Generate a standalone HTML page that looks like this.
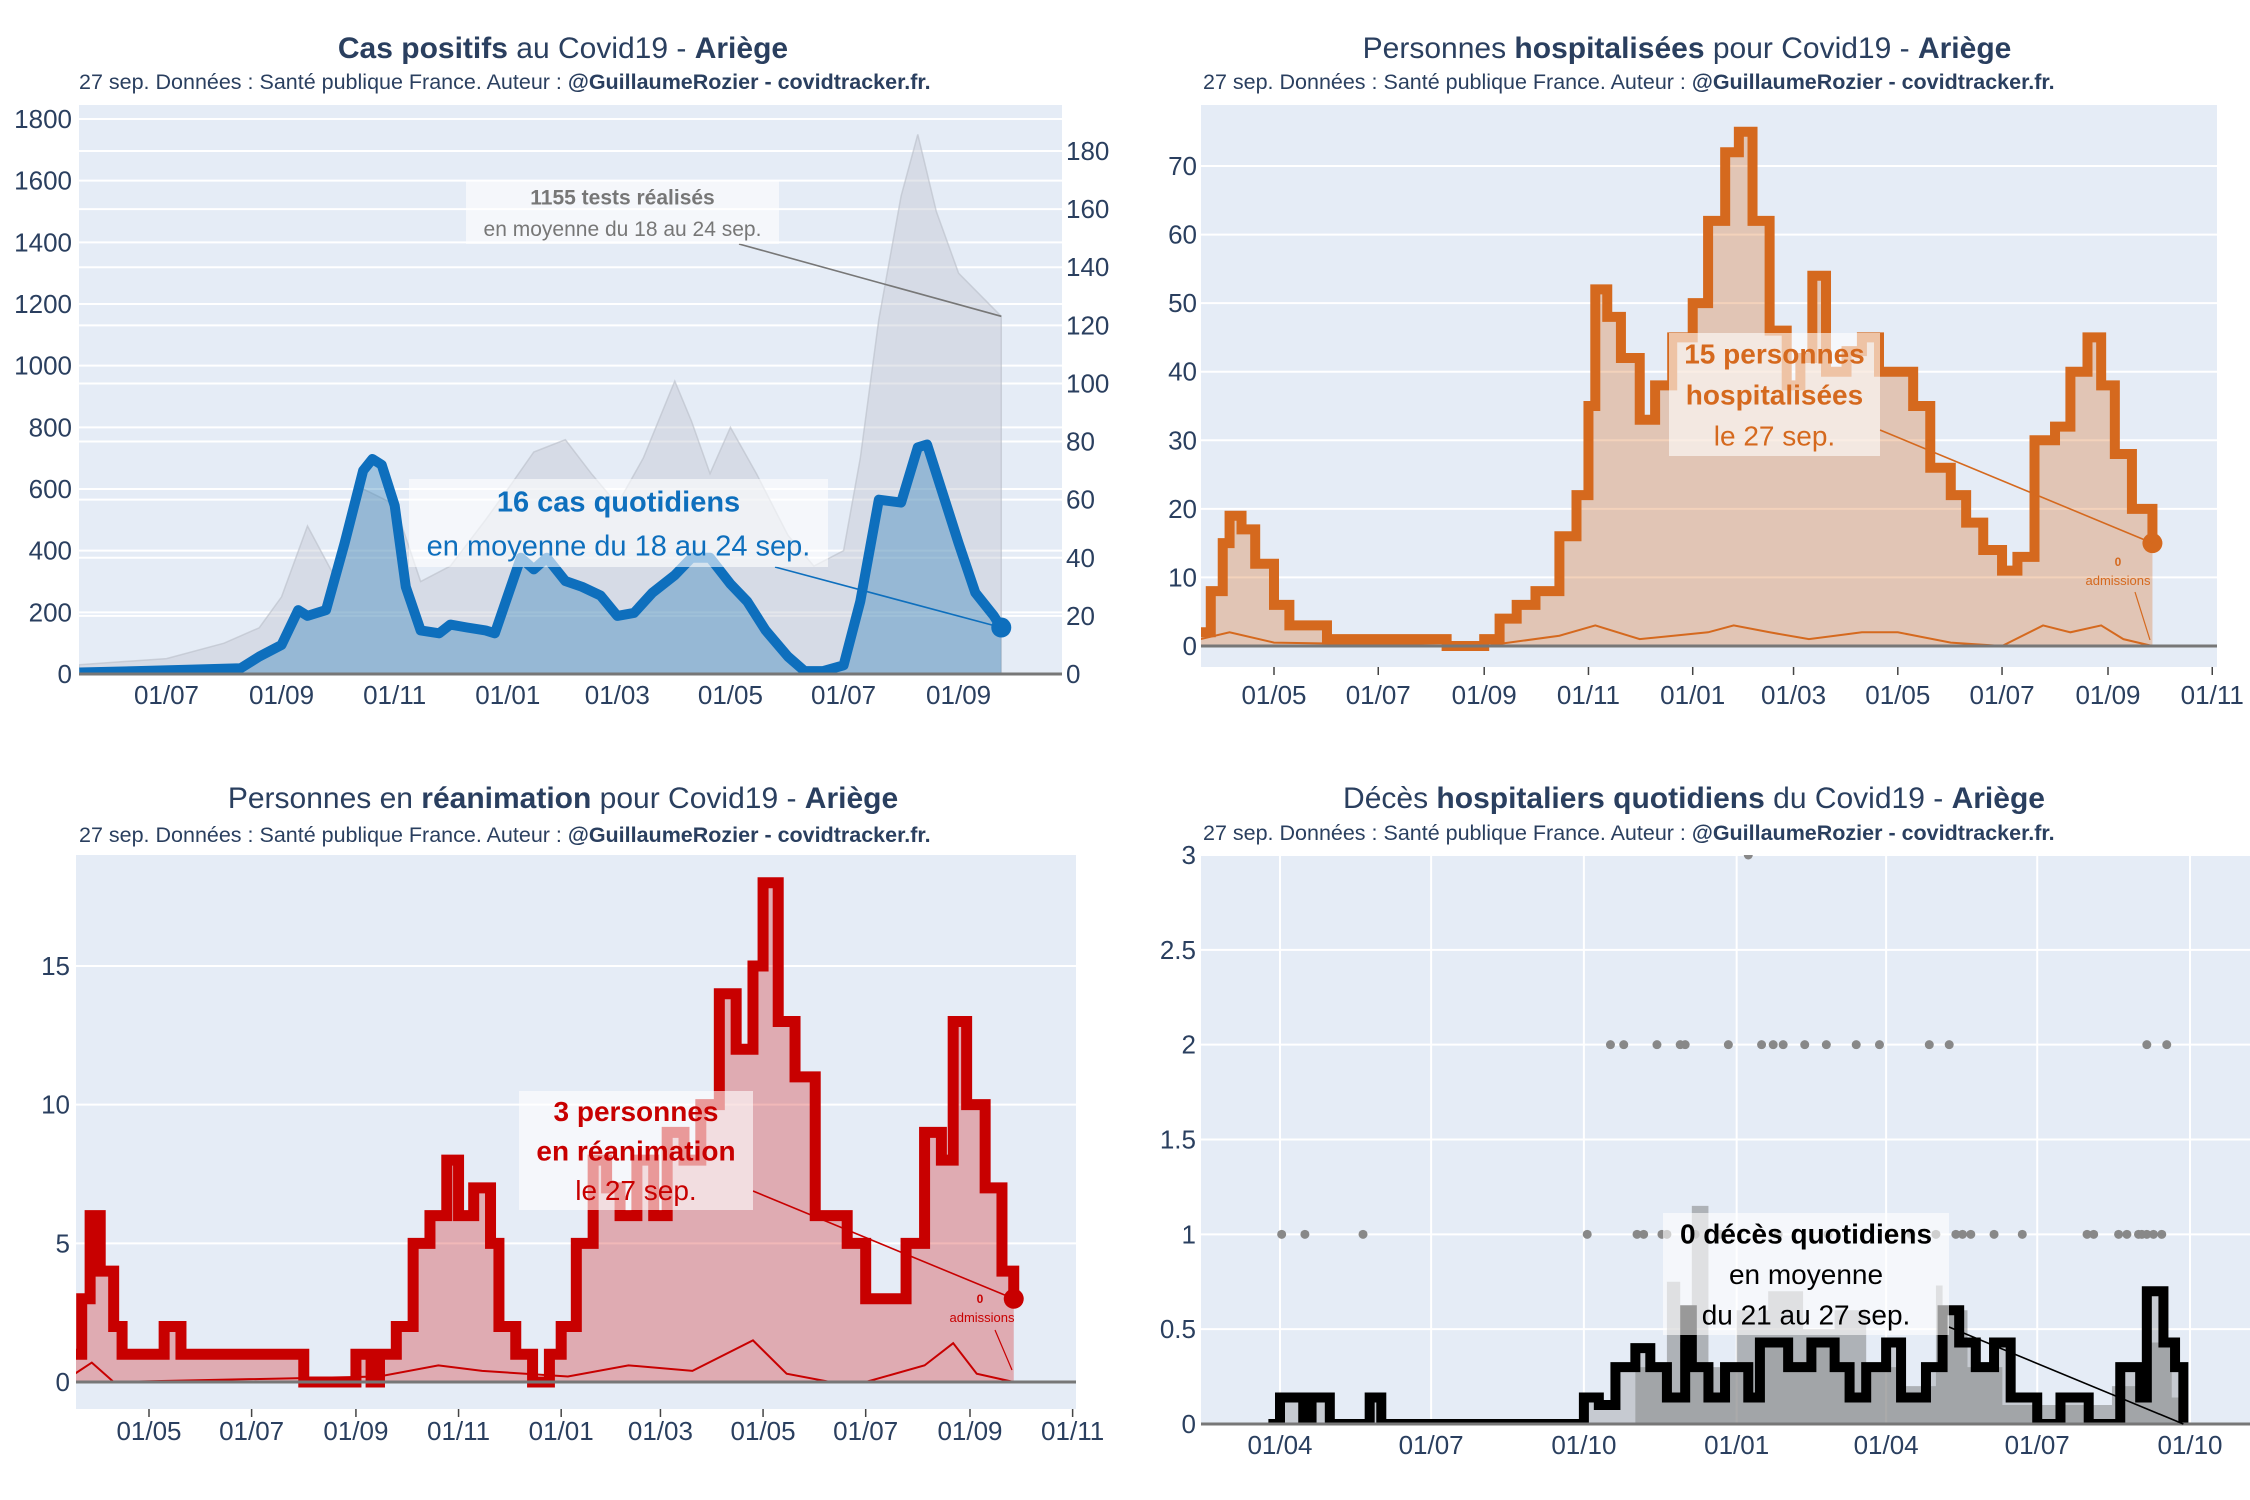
<!DOCTYPE html>
<html><head><meta charset="utf-8"><style>
html,body{margin:0;padding:0;background:#fff;}
svg{display:block;font-family:"Liberation Sans",sans-serif;}
</style></head><body>
<svg id="root" width="2250" height="1500" viewBox="0 0 2250 1500" xmlns="http://www.w3.org/2000/svg"></svg>
<script>
// ---------- Chart 1 data: cas positifs ----------
const casDates=['2020-05-15','2020-06-15','2020-07-15','2020-08-10','2020-08-20','2020-09-01','2020-09-10','2020-09-15','2020-09-25','2020-10-05','2020-10-15','2020-10-20','2020-10-25','2020-11-01','2020-11-07','2020-11-15','2020-11-25','2020-12-01','2020-12-10','2020-12-20','2020-12-25','2021-01-01','2021-01-08','2021-01-15','2021-01-22','2021-02-01','2021-02-10','2021-02-20','2021-03-01','2021-03-10','2021-03-20','2021-04-01','2021-04-10','2021-04-20','2021-05-01','2021-05-10','2021-05-20','2021-06-01','2021-06-10','2021-06-20','2021-07-01','2021-07-10','2021-07-20','2021-08-01','2021-08-10','2021-08-15','2021-09-01','2021-09-10','2021-09-20','2021-09-24'];
const casValues=[0.5,1,1.5,2,6,10,22,20,22,45,70,74,72,58,30,15,14,17,16,15,14,27,40,36,40,32,30,27,20,21,28,34,40,40,31,25,15,6,1,1,3,25,60,59,78,79,45,28,20,16];
const testDates=['2020-05-15','2020-07-01','2020-08-01','2020-08-20','2020-09-01','2020-09-15','2020-10-01','2020-10-15','2020-11-01','2020-11-15','2020-12-01','2020-12-20','2021-01-01','2021-01-15','2021-02-01','2021-02-15','2021-03-01','2021-03-15','2021-04-01','2021-04-10','2021-04-20','2021-05-01','2021-05-15','2021-06-01','2021-06-15','2021-07-01','2021-07-10','2021-07-20','2021-08-01','2021-08-10','2021-08-20','2021-09-01','2021-09-24'];
const testValues=[30,50,100,150,250,480,300,600,550,300,350,500,600,720,760,650,550,700,950,820,650,800,650,450,350,400,700,1150,1550,1750,1500,1300,1160];
const casLeftTicks=[0,200,400,600,800,1000,1200,1400,1600,1800];
const casRightTicks=[0,20,40,60,80,100,120,140,160,180];
const casXTicks=['2020-07-01','2020-09-01','2020-11-01','2021-01-01','2021-03-01','2021-05-01','2021-07-01','2021-09-01'];
// ---------- Chart 2 data: hospitalisations ----------
const hospDates=['2020-03-19','2020-03-25','2020-04-01','2020-04-05','2020-04-12','2020-04-20','2020-05-01','2020-05-10','2020-05-20','2020-06-01','2020-07-01','2020-08-01','2020-08-10','2020-09-01','2020-09-10','2020-09-20','2020-10-01','2020-10-15','2020-10-25','2020-11-01','2020-11-05','2020-11-12','2020-11-20','2020-12-01','2020-12-10','2020-12-20','2021-01-01','2021-01-10','2021-01-20','2021-01-28','2021-02-05','2021-02-15','2021-02-25','2021-03-05','2021-03-12','2021-03-20','2021-04-01','2021-04-10','2021-04-20','2021-05-01','2021-05-10','2021-05-20','2021-06-01','2021-06-10','2021-06-20','2021-07-01','2021-07-10','2021-07-20','2021-08-01','2021-08-10','2021-08-20','2021-08-28','2021-09-05','2021-09-15','2021-09-27'];
const hospValues=[2,8,15,19,17,12,6,3,3,1,1,1,0,1,4,6,8,16,22,35,52,48,42,33,38,45,50,62,72,75,62,46,38,42,54,40,43,45,40,40,35,26,22,18,14,11,13,30,32,40,45,38,28,20,15];
const hospAdmDates=['2020-03-19','2020-04-05','2020-05-01','2020-09-01','2020-10-15','2020-11-05','2020-12-01','2021-01-10','2021-01-25','2021-02-15','2021-03-10','2021-04-10','2021-05-01','2021-06-01','2021-07-01','2021-07-25','2021-08-10','2021-08-28','2021-09-10','2021-09-27'];
const hospAdmValues=[1,2,0.5,0,1.5,3,1,2,3,2,1,2,2,0.5,0,3,2,3,1,0];
const hospYTicks=[0,10,20,30,40,50,60,70];
const bimonthTicks=['2020-05-01','2020-07-01','2020-09-01','2020-11-01','2021-01-01','2021-03-01','2021-05-01','2021-07-01','2021-09-01','2021-11-01'];
// ---------- Chart 3 data: réanimation ----------
const reaDates=['2020-03-18','2020-03-22','2020-03-27','2020-04-02','2020-04-10','2020-04-15','2020-05-01','2020-05-10','2020-05-20','2020-07-01','2020-08-01','2020-08-15','2020-09-01','2020-09-10','2020-09-15','2020-09-25','2020-10-05','2020-10-15','2020-10-25','2020-11-01','2020-11-10','2020-11-20','2020-11-25','2020-12-05','2020-12-15','2020-12-25','2021-01-01','2021-01-10','2021-01-20','2021-01-28','2021-02-05','2021-02-15','2021-02-25','2021-03-05','2021-03-15','2021-03-25','2021-04-05','2021-04-15','2021-04-25','2021-05-01','2021-05-10','2021-05-20','2021-06-01','2021-06-10','2021-06-20','2021-07-01','2021-07-15','2021-07-25','2021-08-05','2021-08-15','2021-08-22','2021-08-30','2021-09-10','2021-09-20','2021-09-27'];
const reaValues=[1,3,6,4,2,1,1,2,1,1,0,0,1,0,1,2,5,6,8,6,7,5,2,1,0,1,2,5,8,7,6,8,6,9,8,10,14,12,15,18,13,11,6,6,5,3,3,5,9,8,13,10,7,4,3];
const reaAdmDates=['2020-03-18','2020-03-28','2020-04-10','2020-09-15','2020-10-20','2020-11-15','2021-01-05','2021-02-10','2021-03-20','2021-04-25','2021-05-15','2021-06-10','2021-07-01','2021-08-05','2021-08-22','2021-09-05','2021-09-27'];
const reaAdmValues=[0.3,0.7,0,0.2,0.6,0.4,0.2,0.6,0.4,1.5,0.3,0,0,0.6,1.4,0.3,0];
const reaYTicks=[0,5,10,15];
// ---------- Chart 4 data: décès ----------
const decDates=['2020-03-25','2020-04-01','2020-04-15','2020-04-20','2020-05-01','2020-05-25','2020-06-01','2020-10-01','2020-10-10','2020-10-20','2020-11-01','2020-11-10','2020-11-20','2020-12-01','2020-12-05','2020-12-15','2020-12-25','2021-01-01','2021-01-08','2021-01-15','2021-02-01','2021-02-15','2021-03-01','2021-03-10','2021-03-20','2021-04-01','2021-04-10','2021-04-25','2021-05-05','2021-05-15','2021-05-25','2021-06-05','2021-06-15','2021-07-01','2021-07-15','2021-08-01','2021-08-20','2021-09-01','2021-09-05','2021-09-15','2021-09-22','2021-09-27'];
const decValues=[0,0.14,0,0.14,0,0.14,0,0.14,0.1,0.3,0.4,0.3,0.14,0.6,0.3,0.14,0.3,0.3,0.14,0.43,0.3,0.43,0.3,0.14,0.3,0.43,0.14,0.3,0.6,0.43,0.3,0.43,0.14,0,0.14,0,0.3,0.14,0.7,0.43,0.3,0];
const decAllDates=['2020-10-15','2020-11-01','2020-11-20','2020-11-28','2020-12-05','2020-12-15','2021-01-01','2021-01-20','2021-02-10','2021-03-01','2021-03-20','2021-04-10','2021-05-01','2021-05-05','2021-05-20','2021-06-10','2021-08-15','2021-09-05','2021-09-20','2021-09-27'];
const decAllValues=[0,0.3,0.75,0.43,1.15,0.3,0.6,0.7,0.5,0.6,0.3,0.2,0.73,0.6,0.3,0.1,0.2,0.43,0.14,0];
const decDots2Offsets=[199,207,227,241,244,270,290,297,303,316,329,347,361,391,403,522,534];
const decDots1Offsets=[1,15,50,185,215,219,230,233,250,265,300,330,380,395,407,411,416,430,447,486,490,505,510,517,519,522,526,531];
const decDots3Offsets=[282];
const decYTicks=[0,0.5,1,1.5,2,2.5,3];
const decYLabels=['0','0.5','1','1.5','2','2.5','3'];
const quarterTicks=['2020-04-01','2020-07-01','2020-10-01','2021-01-01','2021-04-01','2021-07-01','2021-10-01'];

// ---------- helpers ----------
const NS='http://www.w3.org/2000/svg';
const root=document.getElementById('root');
function mk(tag,attrs,parent){const e=document.createElementNS(NS,tag);for(const k in attrs)e.setAttribute(k,attrs[k]);(parent||root).appendChild(e);return e;}
function D(s){const p=s.split('-');return Date.UTC(+p[0],+p[1]-1,+p[2])/864e5;}
function lin(d0,p0,d1,p1){return v=>p0+(v-d0)*(p1-p0)/(d1-d0);}
function lab(s){const p=s.split('-');return p[2]+'/'+p[1];}
const TXT='#2a3f5f';
function linePath(dates,vals,xs,ys,step){let d='';dates.forEach((t,i)=>{const x=xs(D(t)),y=ys(vals[i]);if(i===0)d+='M'+x+','+y;else if(step){d+='H'+x+'V'+y;}else d+='L'+x+','+y;});return d;}
function areaPath(dates,vals,xs,ys,step,y0){return linePath(dates,vals,xs,ys,step)+'V'+y0+'H'+xs(D(dates[0]))+'Z';}
function titles(g,cx,ty,x0,sy,parts){
  const t=mk('text',{x:cx,y:ty,'text-anchor':'middle','font-size':30,fill:TXT},g);
  
  
  parts.forEach(p=>{const s=mk('tspan',{'font-weight':p[1]?'bold':'normal'},t);s.textContent=p[0];});
  const st=mk('text',{x:x0,y:sy,'font-size':21.5,fill:TXT},g);
  
  
  const a=mk('tspan',{},st);a.textContent='27 sep. Données : Santé publique France. Auteur : ';
  const b=mk('tspan',{'font-weight':'bold'},st);b.textContent='@GuillaumeRozier - covidtracker.fr.';
}
function plotBg(g,x,y,w,h,id){
  const r=mk('rect',{x:x,y:y,width:w,height:h,fill:'#e5ecf6'},g);
  
  
  const cp=mk('clipPath',{id:id},g);mk('rect',{x:x,y:y,width:w,height:h},cp);
}
function yTicks(g,ticks,labels,ys,x0,x1,lx,anchor,grid){
  ticks.forEach((v,i)=>{
    if(grid){const l=mk('line',{x1:x0,x2:x1,y1:ys(v),y2:ys(v),stroke:'#fff','stroke-width':2},g);
      
      }
    const t=mk('text',{x:lx,y:ys(v)+9,'text-anchor':anchor,'font-size':26,fill:TXT},g);
    
    
    t.textContent=labels?labels[i]:String(v);
  });
}
function xTicks(g,ticks,xs,ty,tickTop,vgrid){
  ticks.forEach(s=>{
    const x=xs(D(s));
    if(vgrid){const l=mk('line',{x1:x,x2:x,y1:vgrid[0],y2:vgrid[1],stroke:'#fff','stroke-width':2},g);
      
      }
    if(tickTop){const tk=mk('line',{x1:x,x2:x,y1:tickTop,y2:tickTop+8,stroke:'#444','stroke-width':1.5},g);
      
      }
    const t=mk('text',{x:x,y:ty,'text-anchor':'middle','font-size':26,fill:TXT},g);
    
    
    t.textContent=lab(s);
  });
}
function annot(g,x,y,w,h,lines,color,x1,y1,x2,y2){
  const ln=mk('line',{x1:x1,y1:y1,x2:x2,y2:y2,stroke:color,'stroke-width':1.6},g);
  
  
  const r=mk('rect',{x:x,y:y,width:w,height:h,fill:'rgba(255,255,255,0.6)'},g);
  
  
  const lh=h/lines.length;
  lines.forEach((L,i)=>{
    const t=mk('text',{x:x+w/2,y:y+lh*(i+0.5)+L[2]*0.36,'text-anchor':'middle','font-size':L[2],'font-weight':L[1]?'bold':'normal',fill:color},g);
    
    
    t.textContent=L[0];
  });
}

// ---------- Chart 1 ----------
(function(){
  const g=mk('g',{});
  
  
  titles(g,563,58,79,89,[['Cas positifs',1],[' au Covid19 - ',0],['Ariège',1]]);
  plotBg(g,79,105,983,569,'c1');
  const xs=lin(D('2020-07-01'),166.5,D('2021-09-01'),958.6);
  const yL=lin(0,674,1800,119), yR=lin(0,674,180,151);
  yTicks(g,casLeftTicks,null,yL,79,1062,72,'end',true);
  yTicks(g,casRightTicks,null,yR,79,1062,1066,'start',true);
  const pg=mk('g',{'clip-path':'url(#c1)'},g);
  const ta=mk('path',{d:areaPath(testDates,testValues,xs,yL,false,674),fill:'rgba(195,200,210,0.45)',stroke:'rgba(185,190,200,0.6)','stroke-width':1.5},pg);
  
  
  const ca=mk('path',{d:areaPath(casDates,casValues,xs,yR,false,674),fill:'rgba(31,119,180,0.35)'},pg);
  
  
  const cl=mk('path',{d:linePath(casDates,casValues,xs,yR,false),fill:'none',stroke:'#0e6fbd','stroke-width':10,'stroke-linejoin':'round'},pg);
  
  
  const ax=mk('line',{x1:79,x2:1062,y1:674,y2:674,stroke:'#777','stroke-width':3},g);
  
  
  const last=casDates.length-1;
  const dot=mk('circle',{cx:xs(D(casDates[last])),cy:yR(casValues[last]),r:10,fill:'#0e6fbd'},g);
  
  
  xTicks(g,casXTicks,xs,704,null,null);
  const lt=testDates.length-1;
  annot(g,466,181,313,63,[['1155 tests réalisés',1,21],['en moyenne du 18 au 24 sep.',0,21]],'#777',739,244,xs(D(testDates[lt])),yL(testValues[lt]));
  annot(g,409,479,419,88,[['16 cas quotidiens',1,29],['en moyenne du 18 au 24 sep.',0,29]],'#0e6fbd',775,567,xs(D(casDates[last])),yR(casValues[last]));
})();

// ---------- Chart 2 ----------
(function(){
  const g=mk('g',{});
  
  
  titles(g,1687,58,1203,89,[['Personnes ',0],['hospitalisées',1],[' pour Covid19 - ',0],['Ariège',1]]);
  plotBg(g,1201,105,1016,562,'c2');
  const xs=lin(D('2020-05-01'),1274,D('2021-09-01'),2108);
  const ys=lin(0,646,70,166);
  yTicks(g,hospYTicks,null,ys,1201,2217,1197,'end',true);
  const pg=mk('g',{'clip-path':'url(#c2)'},g);
  const a=mk('path',{d:areaPath(hospDates,hospValues,xs,ys,true,646),fill:'rgba(214,105,30,0.3)'},pg);
  
  
  const ad=mk('path',{d:linePath(hospAdmDates,hospAdmValues,xs,ys,false),fill:'none',stroke:'#d5691e','stroke-width':2},pg);
  
  
  const l=mk('path',{d:linePath(hospDates,hospValues,xs,ys,true),fill:'none',stroke:'#d5691e','stroke-width':10},pg);
  
  
  const ax=mk('line',{x1:1201,x2:2217,y1:646,y2:646,stroke:'#777','stroke-width':3},g);
  
  
  const last=hospDates.length-1;
  const dot=mk('circle',{cx:xs(D(hospDates[last])),cy:ys(hospValues[last]),r:10,fill:'#d5691e'},g);
  
  
  xTicks(g,bimonthTicks,xs,704,667,null);
  annot(g,1669,333,211,123,[['15 personnes',1,28],['hospitalisées',1,28],['le 27 sep.',0,28]],'#d5691e',1880,430,xs(D(hospDates[last])),ys(hospValues[last]));
  const s=mk('text',{x:2118,y:566,'text-anchor':'middle','font-size':12,'font-weight':'bold',fill:'#d5691e'},g);
  
  
  s.textContent='0';
  const s2=mk('text',{x:2118,y:585,'text-anchor':'middle','font-size':13,fill:'#d5691e'},g);
  
  
  s2.textContent='admissions';
  const al=mk('line',{x1:2135,y1:592,x2:2150,y2:640,stroke:'#d5691e','stroke-width':1.2},g);
  
  
})();

// ---------- Chart 3 ----------
(function(){
  const g=mk('g',{});
  
  
  titles(g,563,808,79,842,[['Personnes en ',0],['réanimation',1],[' pour Covid19 - ',0],['Ariège',1]]);
  plotBg(g,76,855,1000,554,'c3');
  const xs=lin(D('2020-05-01'),149,D('2021-09-01'),970);
  const ys=lin(0,1382,15,966);
  yTicks(g,reaYTicks,null,ys,76,1076,70,'end',true);
  const pg=mk('g',{'clip-path':'url(#c3)'},g);
  const a=mk('path',{d:areaPath(reaDates,reaValues,xs,ys,true,1382),fill:'rgba(210,20,20,0.3)'},pg);
  
  
  const ad=mk('path',{d:linePath(reaAdmDates,reaAdmValues,xs,ys,false),fill:'none',stroke:'#c80000','stroke-width':2},pg);
  
  
  const l=mk('path',{d:linePath(reaDates,reaValues,xs,ys,true),fill:'none',stroke:'#c80000','stroke-width':11},pg);
  
  
  const ax=mk('line',{x1:76,x2:1076,y1:1382,y2:1382,stroke:'#777','stroke-width':3},g);
  
  
  const last=reaDates.length-1;
  const dot=mk('circle',{cx:xs(D(reaDates[last])),cy:ys(reaValues[last]),r:10,fill:'#c80000'},g);
  
  
  xTicks(g,bimonthTicks,xs,1440,1409,null);
  annot(g,519,1091,234,119,[['3 personnes',1,28],['en réanimation',1,28],['le 27 sep.',0,28]],'#c80000',753,1191,xs(D(reaDates[last])),ys(reaValues[last]));
  const s=mk('text',{x:980,y:1303,'text-anchor':'middle','font-size':12,'font-weight':'bold',fill:'#c80000'},g);
  
  
  s.textContent='0';
  const s2=mk('text',{x:982,y:1322,'text-anchor':'middle','font-size':13,fill:'#c80000'},g);
  
  
  s2.textContent='admissions';
  const al=mk('line',{x1:995,y1:1330,x2:1012,y2:1370,stroke:'#c80000','stroke-width':1.2},g);
  
  
})();

// ---------- Chart 4 ----------
(function(){
  const g=mk('g',{});
  
  
  titles(g,1694,808,1203,840,[['Décès ',0],['hospitaliers quotidiens',1],[' du Covid19 - ',0],['Ariège',1]]);
  plotBg(g,1201,855,1049,569,'c4');
  const xs=lin(D('2020-04-01'),1280,D('2021-10-01'),2190);
  const ys=lin(0,1424,3,855);
  yTicks(g,decYTicks,decYLabels,ys,1201,2250,1196,'end',true);
  xTicks(g,quarterTicks,xs,1454,null,[855,1424]);
  const pg=mk('g',{'clip-path':'url(#c4)'},g);
  const base=D('2020-04-01');
  [[decDots1Offsets,1],[decDots2Offsets,2],[decDots3Offsets,3]].forEach(([arr,v])=>{
    arr.forEach(o=>{
      const c=mk('circle',{cx:xs(base+o),cy:ys(v),r:4.5,fill:'#888'},pg);
      
      
    });
  });
  const ga=mk('path',{d:areaPath(decAllDates,decAllValues,xs,ys,true,1424),fill:'rgba(120,120,120,0.5)'},pg);
  
  
  const a=mk('path',{d:areaPath(decDates,decValues,xs,ys,true,1424),fill:'rgba(140,140,140,0.35)'},pg);
  
  
  const l=mk('path',{d:linePath(decDates,decValues,xs,ys,true),fill:'none',stroke:'#000','stroke-width':10},pg);
  
  
  const ax=mk('line',{x1:1201,x2:2250,y1:1424,y2:1424,stroke:'#777','stroke-width':3},g);
  
  
  const last=decDates.length-1;
  annot(g,1663,1213,286,122,[['0 décès quotidiens',1,28],['en moyenne',0,28],['du 21 au 27 sep.',0,28]],'#000',1949,1327,xs(D(decDates[last])),ys(decValues[last]));
})();
</script>
</body></html>
